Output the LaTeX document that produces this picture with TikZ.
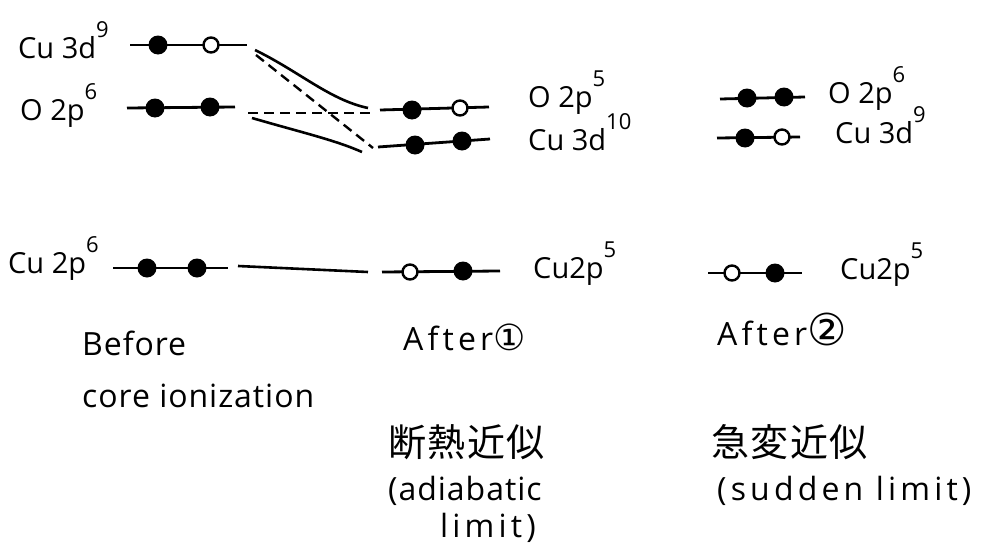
\documentclass[tikz,border=0pt]{standalone}
\usepackage{fontspec}
\setmainfont{Open Sans}
\newfontfamily\capf[LetterSpace=3]{Open Sans}
\newfontfamily\widef[LetterSpace=13]{Open Sans}
\newfontfamily\cjk[LetterSpace=4]{Noto Sans CJK JP}
\newfontfamily\symf{DejaVu Sans}
\newcommand\myexp[1]{\raisebox{0.72em}{\fontsize{22}{22}\selectfont #1}}
\tikzset{
  lvl/.style={line width=2.8pt},
  conn/.style={line width=2.6pt},
  dconn/.style={line width=2.4pt, dash pattern=on 10pt off 6pt},
  fdot/.style={circle, fill=black, minimum size=19pt, inner sep=0pt},
  odot/.style={circle, draw=black, fill=white, line width=2.4pt, minimum size=15pt, inner sep=0pt},
  lab/.style={anchor=base west, inner sep=0pt, font=\fontsize{29}{32}\selectfont},
  captext/.style={anchor=base west, inner sep=0pt, font=\capf\fontsize{32}{36}\selectfont},
  wcaptext/.style={anchor=base west, inner sep=0pt, font=\widef\fontsize{32}{36}\selectfont},
  jcaptext/.style={anchor=base west, inner sep=0pt, font=\cjk\fontsize{38}{40}\selectfont},
}
\begin{document}
\begin{tikzpicture}[x=1pt,y=-1pt]
\useasboundingbox[fill=white] (0,0) rectangle (983,546);
% ---------- before ----------
\node[lab] (l3d9) at (18,58) {Cu 3d\myexp{9}};
\coordinate (a1L) at (130,45); \coordinate (a1R) at (247,45);
\draw[lvl] (a1L) -- (a1R);
\node[fdot] (a1f) at (158,45) {};
\node[odot] (a1o) at (211,45) {};

\node[lab] (lo2p6) at (20,120) {O 2p\myexp{6}};
\coordinate (a2L) at (127,108); \coordinate (a2R) at (235,107);
\draw[lvl] (a2L) -- (a2R);
\node[fdot] (a2f) at (155,108) {};
\node[fdot] (a2g) at (210,107) {};

\node[lab] (lc2p6) at (8,273) {Cu 2p\myexp{6}};
\coordinate (a3L) at (113,268); \coordinate (a3R) at (228,268);
\draw[lvl] (a3L) -- (a3R);
\node[fdot] (a3f) at (147,268) {};
\node[fdot] (a3g) at (197,268) {};

% ---------- after 1 ----------
\coordinate (b1L) at (380,110); \coordinate (b1R) at (489,107);
\draw[lvl] (b1L) -- (b1R);
\node[fdot] (b1f) at (412,110) {};
\node[odot] (b1o) at (460,108) {};
\node[lab] (lo2p5) at (528,107) {O 2p\myexp{5}};

\coordinate (b2L) at (378,147); \coordinate (b2R) at (490,139);
\draw[lvl] (b2L) -- (b2R);
\node[fdot] (b2f) at (415,145) {};
\node[fdot] (b2g) at (462,141) {};
\node[lab] (lc3d10) at (528,150) {Cu 3d\myexp{10}};

\coordinate (b3L) at (382,272); \coordinate (b3R) at (500,271);
\draw[lvl] (b3L) -- (b3R);
\node[odot] (b3o) at (410,272) {};
\node[fdot] (b3f) at (463,271) {};
\node[lab] (lc2p5a) at (533,278) {Cu2p\myexp{5}};

% ---------- connectors ----------
\coordinate (c1s) at (255,50); \coordinate (c1e) at (368,108);
\coordinate (c2s) at (256,55); \coordinate (c2e) at (373,148);
\coordinate (c3s) at (248,113); \coordinate (c3e) at (370,113);
\coordinate (c4s) at (252,118); \coordinate (c4e) at (362,152);
\coordinate (c5s) at (238,266); \coordinate (c5e) at (368,272);
\draw[conn] (c1s) .. controls (300,72) and (330,100) .. (c1e);
\draw[dconn] (c2s) -- (c2e);
\draw[dconn] (c3s) -- (c3e);
\draw[conn] (c4s) .. controls (300,132) and (335,140) .. (c4e);
\draw[conn] (c5s) -- (c5e);

% ---------- after 2 ----------
\coordinate (d1L) at (720,99); \coordinate (d1R) at (805,97);
\draw[lvl] (d1L) -- (d1R);
\node[fdot] (d1f) at (747,98) {};
\node[fdot] (d1g) at (784,97) {};
\node[lab] (ro2p6) at (828,103) {O 2p\myexp{6}};

\coordinate (d2L) at (717,138); \coordinate (d2R) at (800,137);
\draw[lvl] (d2L) -- (d2R);
\node[fdot] (d2f) at (745,138) {};
\node[odot] (d2o) at (782,137) {};
\node[lab] (rc3d9) at (835,143) {Cu 3d\myexp{9}};

\coordinate (d3L) at (708,273); \coordinate (d3R) at (802,273);
\draw[lvl] (d3L) -- (d3R);
\node[odot] (d3o) at (732,273) {};
\node[fdot] (d3f) at (775,273) {};
\node[lab] (rc2p5) at (840,279) {Cu2p\myexp{5}};

% ---------- captions ----------
\node[captext] (before) at (82,355) {Before};
\node[captext] (coreion) at (82,407) {core ionization};
\node[wcaptext] (after1) at (403,350) {After{\symf\fontsize{36}{38}\selectfont ①}};
\node[wcaptext] (after2) at (717,345) {After{\symf\fontsize{44}{46}\selectfont ②}};
\node[jcaptext] (jp1) at (388,456) {断熱近似};
\node[captext] (adia) at (388,500) {(adiabatic};
\node[wcaptext] (limit) at (440,537) {limit)};
\node[jcaptext] (jp2) at (711,456) {急変近似};
\node[wcaptext] (sudden) at (717,500) {(sudden limit)};
\end{tikzpicture}
\end{document}
